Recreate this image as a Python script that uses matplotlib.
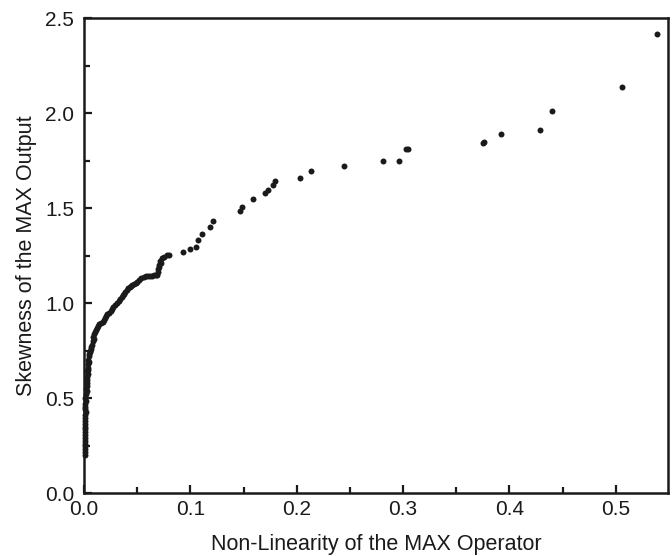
import matplotlib
matplotlib.use("Agg")
import matplotlib.pyplot as plt
from matplotlib.ticker import MultipleLocator

plt.rcParams['font.family'] = ['Liberation Sans', 'DejaVu Sans']

# non-linearity of the MAX operator (x) vs skewness of its output (y)
nonlinearity = [
    0.0008, 0.0010, 0.0008, 0.0012, 0.0010, 0.0009, 0.0012, 0.0010, 0.0013, 0.0011, 0.0014,
    0.0010, 0.0012, 0.0011, 0.0013, 0.0012, 0.0014, 0.0013, 0.0015, 0.0014, 0.0016,
    0.0020, 0.0022, 0.0025, 0.0030, 0.0032, 0.0038, 0.0040, 0.0042, 0.0048, 0.0052,
    0.0024, 0.0028, 0.0030, 0.0035, 0.0040, 0.0045, 0.0050,
    0.0065, 0.0072, 0.0080, 0.0085, 0.0100, 0.0118, 0.0140, 0.0176, 0.0200, 0.0220,
    0.0060, 0.0070, 0.0090, 0.0095, 0.0110, 0.0130, 0.0160, 0.0190, 0.0210, 0.0235,
    0.0250, 0.0275, 0.0310, 0.0340, 0.0370, 0.0390, 0.0415, 0.0440, 0.0470, 0.0500,
    0.0262, 0.0290, 0.0325, 0.0355, 0.0380, 0.0400, 0.0430, 0.0455, 0.0485, 0.0520,
    0.0540, 0.0580, 0.0620, 0.0660, 0.0690, 0.0700, 0.0702, 0.0710, 0.0730, 0.0777,
    0.0560, 0.0600, 0.0640, 0.0680, 0.0695, 0.0705, 0.0720, 0.0750,
    0.0800, 0.0933, 0.0996, 0.1050, 0.1075, 0.1106, 0.1180, 0.1216, 0.1470, 0.1490,
    0.1590, 0.1700, 0.1730, 0.1780, 0.1795, 0.2030, 0.2130, 0.2444, 0.2813, 0.2960,
    0.3026, 0.3050, 0.3747, 0.3760, 0.3916, 0.4287, 0.4400, 0.5055, 0.5390,
]
skewness = [
    0.20, 0.23, 0.26, 0.29, 0.32, 0.35, 0.38, 0.41, 0.44, 0.47, 0.50,
    0.215, 0.245, 0.275, 0.305, 0.335, 0.365, 0.395, 0.425, 0.455, 0.485,
    0.52, 0.55, 0.58, 0.61, 0.64, 0.66, 0.68, 0.70, 0.72, 0.74,
    0.535, 0.565, 0.595, 0.625, 0.65, 0.69, 0.73,
    0.76, 0.78, 0.80, 0.82, 0.85, 0.87, 0.89, 0.90, 0.92, 0.94,
    0.75, 0.77, 0.81, 0.835, 0.86, 0.88, 0.895, 0.91, 0.93, 0.95,
    0.96, 0.98, 1.00, 1.02, 1.04, 1.06, 1.08, 1.09, 1.10, 1.11,
    0.97, 0.99, 1.01, 1.03, 1.05, 1.07, 1.085, 1.095, 1.105, 1.12,
    1.13, 1.14, 1.145, 1.15, 1.15, 1.18, 1.20, 1.22, 1.235, 1.253,
    1.135, 1.14, 1.145, 1.15, 1.165, 1.19, 1.21, 1.245,
    1.255, 1.27, 1.283, 1.293, 1.33, 1.363, 1.40, 1.433, 1.486, 1.506,
    1.55, 1.577, 1.595, 1.621, 1.644, 1.661, 1.695, 1.723, 1.746, 1.749,
    1.809, 1.812, 1.844, 1.85, 1.889, 1.912, 2.013, 2.14, 2.417,
]

fig = plt.figure(figsize=(6.72, 5.56), dpi=100)
ax = fig.add_axes([0.125, 0.1133, 0.869, 0.854])

ax.plot(nonlinearity, skewness, linestyle='none', marker='o', markersize=4.3,
        color='#1a1a1a', markeredgewidth=0, clip_on=False, zorder=3)

ax.set_xlim(0, 0.549)
ax.set_ylim(0, 2.5)
ax.xaxis.set_major_locator(MultipleLocator(0.1))
ax.xaxis.set_minor_locator(MultipleLocator(0.05))
ax.yaxis.set_major_locator(MultipleLocator(0.5))
ax.yaxis.set_minor_locator(MultipleLocator(0.25))
ax.xaxis.set_major_formatter(plt.FormatStrFormatter('%.1f'))
ax.yaxis.set_major_formatter(plt.FormatStrFormatter('%.1f'))

for s in ax.spines.values():
    s.set_linewidth(1.8)
    s.set_color('#1a1a1a')
ax.tick_params(which='both', direction='in', top=False, right=False,
               width=1.6, color='#1a1a1a', labelsize=15, labelcolor='#1a1a1a')
ax.tick_params(which='major', length=6)
ax.tick_params(which='minor', length=4)
ax.tick_params(axis='x', which='major', pad=5)
ax.tick_params(axis='y', which='major', pad=7)

ax.set_xlabel('Non-Linearity of the MAX Operator', fontsize=15.5, color='#1a1a1a', labelpad=10.5)
ax.set_ylabel('Skewness of the MAX Output', fontsize=15.5, color='#1a1a1a', labelpad=6)

fig.savefig('out.png', dpi=100)
